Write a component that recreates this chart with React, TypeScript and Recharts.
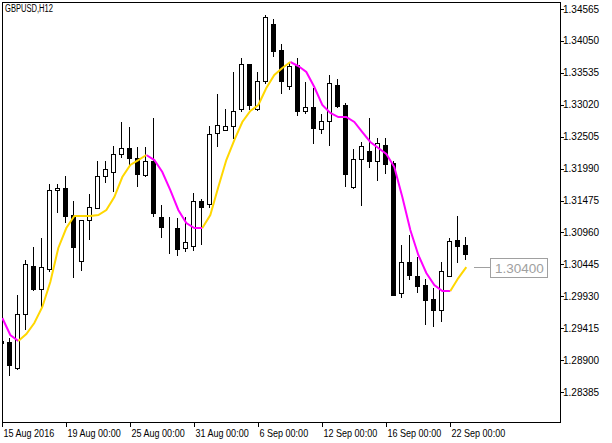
import React from "react";
import {
  ComposedChart,
  XAxis,
  YAxis,
  Bar,
  Line,
  ReferenceArea,
  ReferenceDot,
} from "recharts";

// GBPUSD H12 bars, oldest first
const opens = [
  1.29208, 1.29192, 1.28772, 1.29644, 1.30418, 1.30047, 1.3037, 1.31644, 1.31677, 1.31241,
  1.30499, 1.3116, 1.31354, 1.3187, 1.31935, 1.32225, 1.32322, 1.32161, 1.31886, 1.32112,
  1.31209, 1.31047, 1.31031, 1.30709, 1.30741, 1.31467, 1.31418, 1.32564, 1.32612, 1.32677,
  1.32951, 1.33677, 1.32951, 1.33403, 1.34323, 1.33903, 1.33322, 1.33661, 1.32919, 1.32984,
  1.32629, 1.32758, 1.33339, 1.33016, 1.31693, 1.32145, 1.32274, 1.32112, 1.3237, 1.3208,
  1.29982, 1.30483, 1.30257, 1.30112, 1.29886, 1.29708, 1.30257, 1.30838, 1.30757,
];
const highs = [
  1.29385, 1.29256, 1.2995, 1.30515, 1.30725, 1.3087, 1.31741, 1.31741, 1.3187, 1.31467,
  1.3116, 1.3158, 1.32112, 1.32112, 1.32354, 1.32742, 1.32661, 1.32338, 1.32338, 1.32806,
  1.31402, 1.31209, 1.31193, 1.31209, 1.31596, 1.31499, 1.32677, 1.33193, 1.32951, 1.33548,
  1.33774, 1.3368, 1.33548, 1.34468, 1.34403, 1.34, 1.33693, 1.33774, 1.33387, 1.3329,
  1.32871, 1.335, 1.33435, 1.33048, 1.32306, 1.32419, 1.32806, 1.32483, 1.32483, 1.32112,
  1.30757, 1.30918, 1.30563, 1.30208, 1.30063, 1.30483, 1.3087, 1.31225, 1.30886,
];
const lows = [
  1.29063, 1.28643, 1.2874, 1.29385, 1.30015, 1.29757, 1.30321, 1.31273, 1.31112, 1.30224,
  1.30337, 1.30838, 1.31338, 1.31757, 1.31612, 1.32161, 1.32032, 1.31693, 1.31854, 1.31209,
  1.3087, 1.30612, 1.30579, 1.30644, 1.3066, 1.30757, 1.31354, 1.32338, 1.326, 1.32467,
  1.32903, 1.32935, 1.32919, 1.33355, 1.3379, 1.33193, 1.33258, 1.32838, 1.32871, 1.32387,
  1.32548, 1.32354, 1.32967, 1.31693, 1.3166, 1.31386, 1.31999, 1.3179, 1.31903, 1.2994,
  1.29902, 1.30192, 1.29982, 1.29466, 1.29434, 1.29515, 1.30241, 1.30466, 1.30515,
];
const closes = [
  1.29176, 1.28821, 1.29644, 1.3045, 1.30047, 1.304, 1.31644, 1.31677, 1.31225, 1.30725,
  1.3116, 1.3137, 1.3187, 1.31983, 1.32225, 1.32322, 1.32161, 1.31903, 1.32112, 1.31273,
  1.31047, 1.3104, 1.30692, 1.30805, 1.31467, 1.3137, 1.32548, 1.32693, 1.32677, 1.32919,
  1.33677, 1.33016, 1.33403, 1.34436, 1.33887, 1.33403, 1.33645, 1.32919, 1.32984, 1.32645,
  1.32758, 1.33371, 1.33, 1.31903, 1.32145, 1.32354, 1.32112, 1.32403, 1.32064, 1.2995,
  1.30483, 1.30273, 1.30095, 1.29869, 1.29708, 1.30337, 1.30821, 1.30741, 1.30612,
];
// smoothed moving average, one value per bar
const maValues = [
  1.29579, 1.29305, 1.29208, 1.29321, 1.29498, 1.29757, 1.3016, 1.30709, 1.31031, 1.31225,
  1.31225, 1.31225, 1.31241, 1.31322, 1.31531, 1.31854, 1.32048, 1.32128, 1.32209, 1.32128,
  1.31935, 1.31644, 1.31322, 1.31112, 1.31031, 1.31031, 1.31241, 1.31693, 1.32128, 1.32451,
  1.32742, 1.32919, 1.33016, 1.3329, 1.335, 1.33613, 1.3371, 1.33645, 1.33548, 1.33306,
  1.33016, 1.32887, 1.32822, 1.32822, 1.32742, 1.3258, 1.32419, 1.32322, 1.32225, 1.32015,
  1.31531, 1.30999, 1.30596, 1.30305, 1.30112, 1.30015, 1.30015, 1.30224, 1.304,
];

const tickBars = [0, 8, 16, 24, 32, 40, 48, 56];
const tickLabels = [
  "15 Aug 2016",
  "19 Aug 00:00",
  "25 Aug 00:00",
  "31 Aug 00:00",
  "6 Sep 00:00",
  "12 Sep 00:00",
  "16 Sep 00:00",
  "22 Sep 00:00",
];
const priceTicks = [
  1.34565, 1.3405, 1.33535, 1.3302, 1.32505, 1.3199, 1.31475, 1.3096, 1.30445, 1.2993,
  1.29415, 1.289, 1.28385,
];

const X_DOMAIN: [number, number] = [-0.04, 69.71];
const Y_DOMAIN: [number, number] = [1.27901, 1.34678];
const FONT = "'Liberation Sans', Arial, sans-serif";

// direction of each segment ending at bar i; flat keeps the previous colour
const dirs: string[] = maValues.map(() => "down");
for (let i = 1; i < maValues.length; i++) {
  if (maValues[i] > maValues[i - 1]) dirs[i] = "up";
  else if (maValues[i] < maValues[i - 1]) dirs[i] = "down";
  else dirs[i] = dirs[i - 1];
}
dirs[0] = dirs[1];

const data = opens.map((o, k) => {
  const inSeg = (d: string) =>
    (k > 0 && dirs[k] === d) || (k < maValues.length - 1 && dirs[k + 1] === d);
  return {
    k,
    open: o,
    high: highs[k],
    low: lows[k],
    close: closes[k],
    range: [lows[k], highs[k]],
    maUp: inSeg("up") ? maValues[k] : null,
    maDown: inSeg("down") ? maValues[k] : null,
  };
});

function Candle(props: any) {
  const { x, y, width, height, payload } = props;
  if (!payload) return null;
  const { open, close, high, low } = payload;
  const ratio = height / (high - low);
  const cx = Math.floor(x + width / 2);
  const yOf = (v: number) => y + (high - v) * ratio;
  const top = Math.round(yOf(Math.max(open, close)));
  const bot = Math.round(yOf(Math.min(open, close)));
  const bull = close >= open;
  return (
    <g shapeRendering="crispEdges">
      <line
        x1={cx + 0.5}
        x2={cx + 0.5}
        y1={Math.round(y)}
        y2={Math.round(y + height)}
        stroke="#000"
      />
      <rect
        x={cx - 1.5}
        y={top + 0.5}
        width={4}
        height={Math.max(bot - top, 0)}
        fill={bull ? "#fff" : "#000"}
        stroke="#000"
      />
    </g>
  );
}

function XTick(props: any) {
  const { x, y, payload } = props;
  const label = tickLabels[tickBars.indexOf(payload.value)];
  const px = Math.floor(x) + 0.5;
  return (
    <g>
      <line x1={px} x2={px} y1={y} y2={y + 5} stroke="#000" shapeRendering="crispEdges" />
      <text
        x={0}
        y={0}
        transform={`translate(${px + 1},${y + 15}) scale(0.86,1)`}
        fontSize={10.5}
        fontFamily={FONT}
        fill="#000"
      >
        {label}
      </text>
    </g>
  );
}

function YTick(props: any) {
  const { x, y, payload } = props;
  const py = Math.round(y) + 0.5;
  return (
    <g>
      <line x1={x} x2={x + 4} y1={py} y2={py} stroke="#000" shapeRendering="crispEdges" />
      <text x={x + 3} y={y + 3.5} fontSize={10} fontFamily={FONT} fill="#000">
        {payload.value.toFixed(5)}
      </text>
    </g>
  );
}

function PriceTag(props: any) {
  const { cx, cy } = props;
  const y = Math.round(cy) + 0.5;
  const x = Math.round(cx);
  return (
    <g shapeRendering="crispEdges">
      <line x1={x + 8} x2={x + 24} y1={y} y2={y} stroke="#a0a0a0" />
      <rect x={x + 24.5} y={y - 9.5} width={57} height={19} fill="#fff" stroke="#a0a0a0" />
      <text x={x + 29} y={y + 5} fontSize={13.5} fontFamily={FONT} fill="#a0a0a0">
        {maValues[maValues.length - 1].toFixed(5)}
      </text>
    </g>
  );
}

export default function App() {
  return (
    <div style={{ position: "absolute", left: 0, top: 0, width: 612, height: 443, background: "#fff" }}>
      <ComposedChart
        width={612}
        height={443}
        data={data}
        margin={{ top: 2, right: 0, bottom: 0, left: 2 }}
      >
        <XAxis
          dataKey="k"
          type="number"
          domain={X_DOMAIN}
          allowDataOverflow
          ticks={tickBars}
          interval={0}
          height={21}
          tickSize={0}
          tickMargin={0}
          axisLine={false}
          tickLine={false}
          tick={(p: any) => <XTick {...p} />}
        />
        <YAxis
          orientation="right"
          type="number"
          domain={Y_DOMAIN}
          allowDataOverflow
          ticks={priceTicks}
          interval={0}
          width={52}
          tickSize={0}
          tickMargin={0}
          axisLine={false}
          tickLine={false}
          tick={(p: any) => <YTick {...p} />}
        />
        <Bar
          dataKey="range"
          barSize={5}
          isAnimationActive={false}
          shape={(p: any) => <Candle {...p} />}
        />
        <Line
          dataKey="maDown"
          type="linear"
          stroke="#ff00ff"
          strokeWidth={2}
          dot={false}
          connectNulls={false}
          isAnimationActive={false}
        />
        <Line
          dataKey="maUp"
          type="linear"
          stroke="#ffd700"
          strokeWidth={2}
          dot={false}
          connectNulls={false}
          isAnimationActive={false}
        />
        <ReferenceArea
          x1={X_DOMAIN[0]}
          x2={X_DOMAIN[1]}
          y1={Y_DOMAIN[0]}
          y2={Y_DOMAIN[1]}
          fill="none"
          stroke="#000"
          strokeWidth={1}
          shapeRendering="crispEdges"
        />
        <ReferenceDot
          x={maValues.length - 1}
          y={maValues[maValues.length - 1]}
          r={0}
          shape={(p: any) => <PriceTag {...p} />}
        />
      </ComposedChart>
      <svg
        width={80}
        height={16}
        style={{ position: "absolute", left: 0, top: 0, pointerEvents: "none" }}
      >
        <text
          x={5}
          y={11.5}
          fontSize={10}
          fontFamily={FONT}
          fill="#000"
          textLength={48}
          lengthAdjust="spacingAndGlyphs"
        >
          GBPUSD,H12
        </text>
      </svg>
    </div>
  );
}
